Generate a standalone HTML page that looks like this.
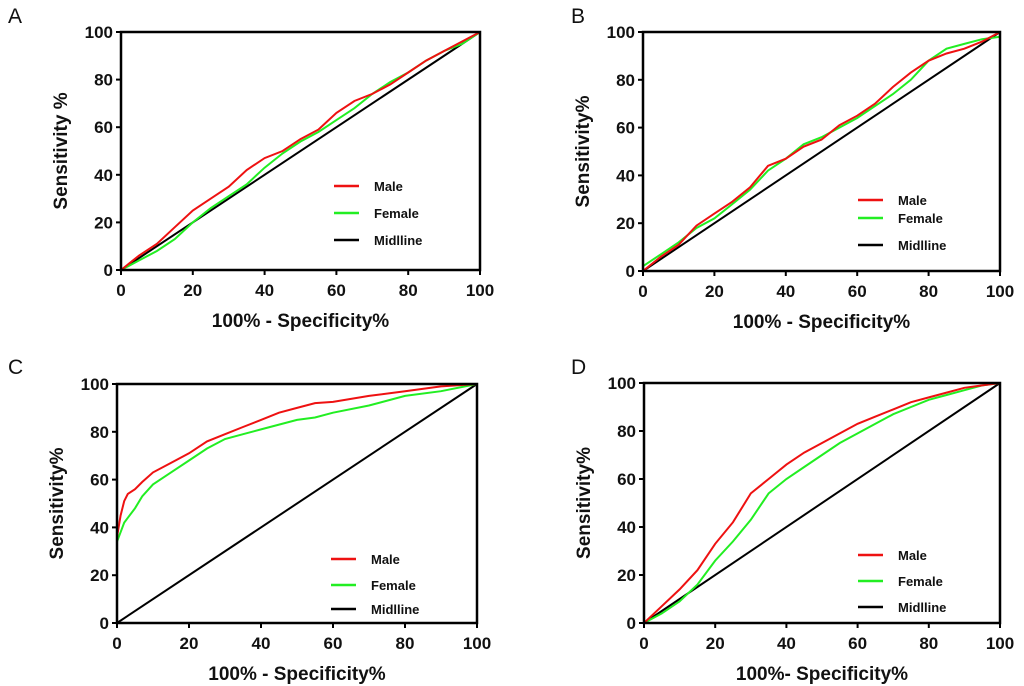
<!DOCTYPE html>
<html><head><meta charset="utf-8"><style>
body{margin:0;background:#fff;}
svg{display:block;font-family:"Liberation Sans",Arial,sans-serif;}
</style></head><body>
<svg id="fig" width="1024" height="686"></svg>
<script>
const xA=[0,5,10,15,20,25,30,35,40,45,50,55,60,65,70,75,80,85,90,95,100];
const maleA=[0,6,11,18,25,30,35,42,47,50,55,59,66,71,74,78,83,88,92,96,100];
const femaleA=[0,4,8,13,20,26,31,36,43,49,54,58,63,68,74,79,83,88,92,95,100];
const xB=[0,5,10,15,20,25,30,35,40,45,50,55,60,65,70,75,80,85,90,95,100];
const maleB=[0,6,11,19,24,29,35,44,47,52,55,61,65,70,77,83,88,91,93,96,100];
const femaleB=[2,7,12,18,22,28,34,42,47,53,56,60,64,69,74,80,88,93,95,97,98];
const xC=[0,0,1,2,3,5,7,10,15,20,25,30,35,40,45,50,55,60,70,80,90,100];
const maleC=[0,36,45,51,54,56,59,63,67,71,76,79,82,85,88,90,92,92.5,95,97,99,100];
const femaleC=[0,34,38,42,44,48,53,58,63,68,73,77,79,81,83,85,86,88,91,95,97,100];
const xD=[0,5,10,15,20,25,30,35,40,45,50,55,60,65,70,75,80,85,90,95,100];
const maleD=[0,7,14,22,33,42,54,60,66,71,75,79,83,86,89,92,94,96,98,99,100];
const femaleD=[0,4,9,16,26,34,43,54,60,65,70,75,79,83,87,90,93,95,97,99,100];
const ticks=[0,20,40,60,80,100];
const NS="http://www.w3.org/2000/svg";
const svg=document.getElementById('fig');
function mk(tag,attrs,parent){const e=document.createElementNS(NS,tag);for(const k in attrs)e.setAttribute(k,attrs[k]);(parent||svg).appendChild(e);return e;}
function panel(p){
  const g=mk('g',{});
  
  
  const sx=v=>p.x0+(p.x1-p.x0)*v/100, sy=v=>p.y1-(p.y1-p.y0)*v/100;
  const lt=mk('text',{x:p.lx,y:p.ly,'font-size':21,fill:'#111'},g);lt.textContent=p.id;
  
  const mid=mk('line',{x1:sx(0),y1:sy(0),x2:sx(100),y2:sy(100),stroke:'#000','stroke-width':2},g);
  
  [[p.xs,p.f,'#22ee22','female-curve'],[p.xs,p.m,'#ee1111','male-curve']].forEach(([xs,ys,c,n])=>{
    const d=xs.map((x,i)=>(i?'L':'M')+sx(x).toFixed(1)+','+sy(ys[i]).toFixed(1)).join('');
    const pa=mk('path',{d:d,fill:'none',stroke:c,'stroke-width':2},g);
    
  });
  const box=mk('rect',{x:p.x0,y:p.y0,width:p.x1-p.x0,height:p.y1-p.y0,fill:'none',stroke:'#000','stroke-width':2.5},g);
  
  ticks.forEach(t=>{
    mk('line',{x1:sx(t),y1:p.y1,x2:sx(t),y2:p.y1+5,stroke:'#000','stroke-width':2},g);
    mk('line',{x1:p.x0-5,y1:sy(t),x2:p.x0,y2:sy(t),stroke:'#000','stroke-width':2},g);
    const tx=mk('text',{x:sx(t),y:p.y1+26,'font-size':17,'font-weight':'bold','text-anchor':'middle',fill:'#111'},g);tx.textContent=t;
    
    const ty=mk('text',{x:p.x0-8,y:sy(t)+6,'font-size':17,'font-weight':'bold','text-anchor':'end',fill:'#111'},g);ty.textContent=t;
    
  });
  const xt=mk('text',{x:(p.x0+p.x1)/2,y:p.y1+57,'font-size':19,'font-weight':'bold','text-anchor':'middle',fill:'#111'},g);xt.textContent=p.xl;
  
  const cy=(p.y0+p.y1)/2, cx=p.x0-54;
  const yt=mk('text',{x:cx,y:cy,'font-size':19,'font-weight':'bold','text-anchor':'middle',fill:'#111',transform:`rotate(-90 ${cx} ${cy})`},g);yt.textContent=p.yl;
  
  [['Male','#ee1111'],['Female','#22ee22'],['Midlline','#000']].forEach(([n,c],i)=>{
    const y=p.leg[i];
    const le=mk('g',{},g);
    
    mk('line',{x1:p.legx,y1:y,x2:p.legx+25,y2:y,stroke:c,'stroke-width':2.5},le);
    const t=mk('text',{x:p.legx+40,y:y+5,'font-size':13,'font-weight':'bold',fill:'#111'},le);t.textContent=n;
  });
}
panel({id:'A',x0:121,x1:480,y0:32,y1:270,lx:8,ly:23,xs:xA,m:maleA,f:femaleA,xl:'100% - Specificity%',yl:'Sensitivity %',legx:334,leg:[186,213,240]});
panel({id:'B',x0:643,x1:1000,y0:32,y1:271,lx:571,ly:23,xs:xB,m:maleB,f:femaleB,xl:'100% - Specificity%',yl:'Sensitivity%',legx:858,leg:[200,218,245]});
panel({id:'C',x0:117,x1:477,y0:384,y1:623,lx:8,ly:374,xs:xC,m:maleC,f:femaleC,xl:'100% - Specificity%',yl:'Sensitivity%',legx:331,leg:[559,585,609]});
panel({id:'D',x0:644,x1:1000,y0:383,y1:623,lx:571,ly:374,xs:xD,m:maleD,f:femaleD,xl:'100%- Specificity%',yl:'Sensitivity%',legx:858,leg:[555,581,607]});
</script>
</body></html>
